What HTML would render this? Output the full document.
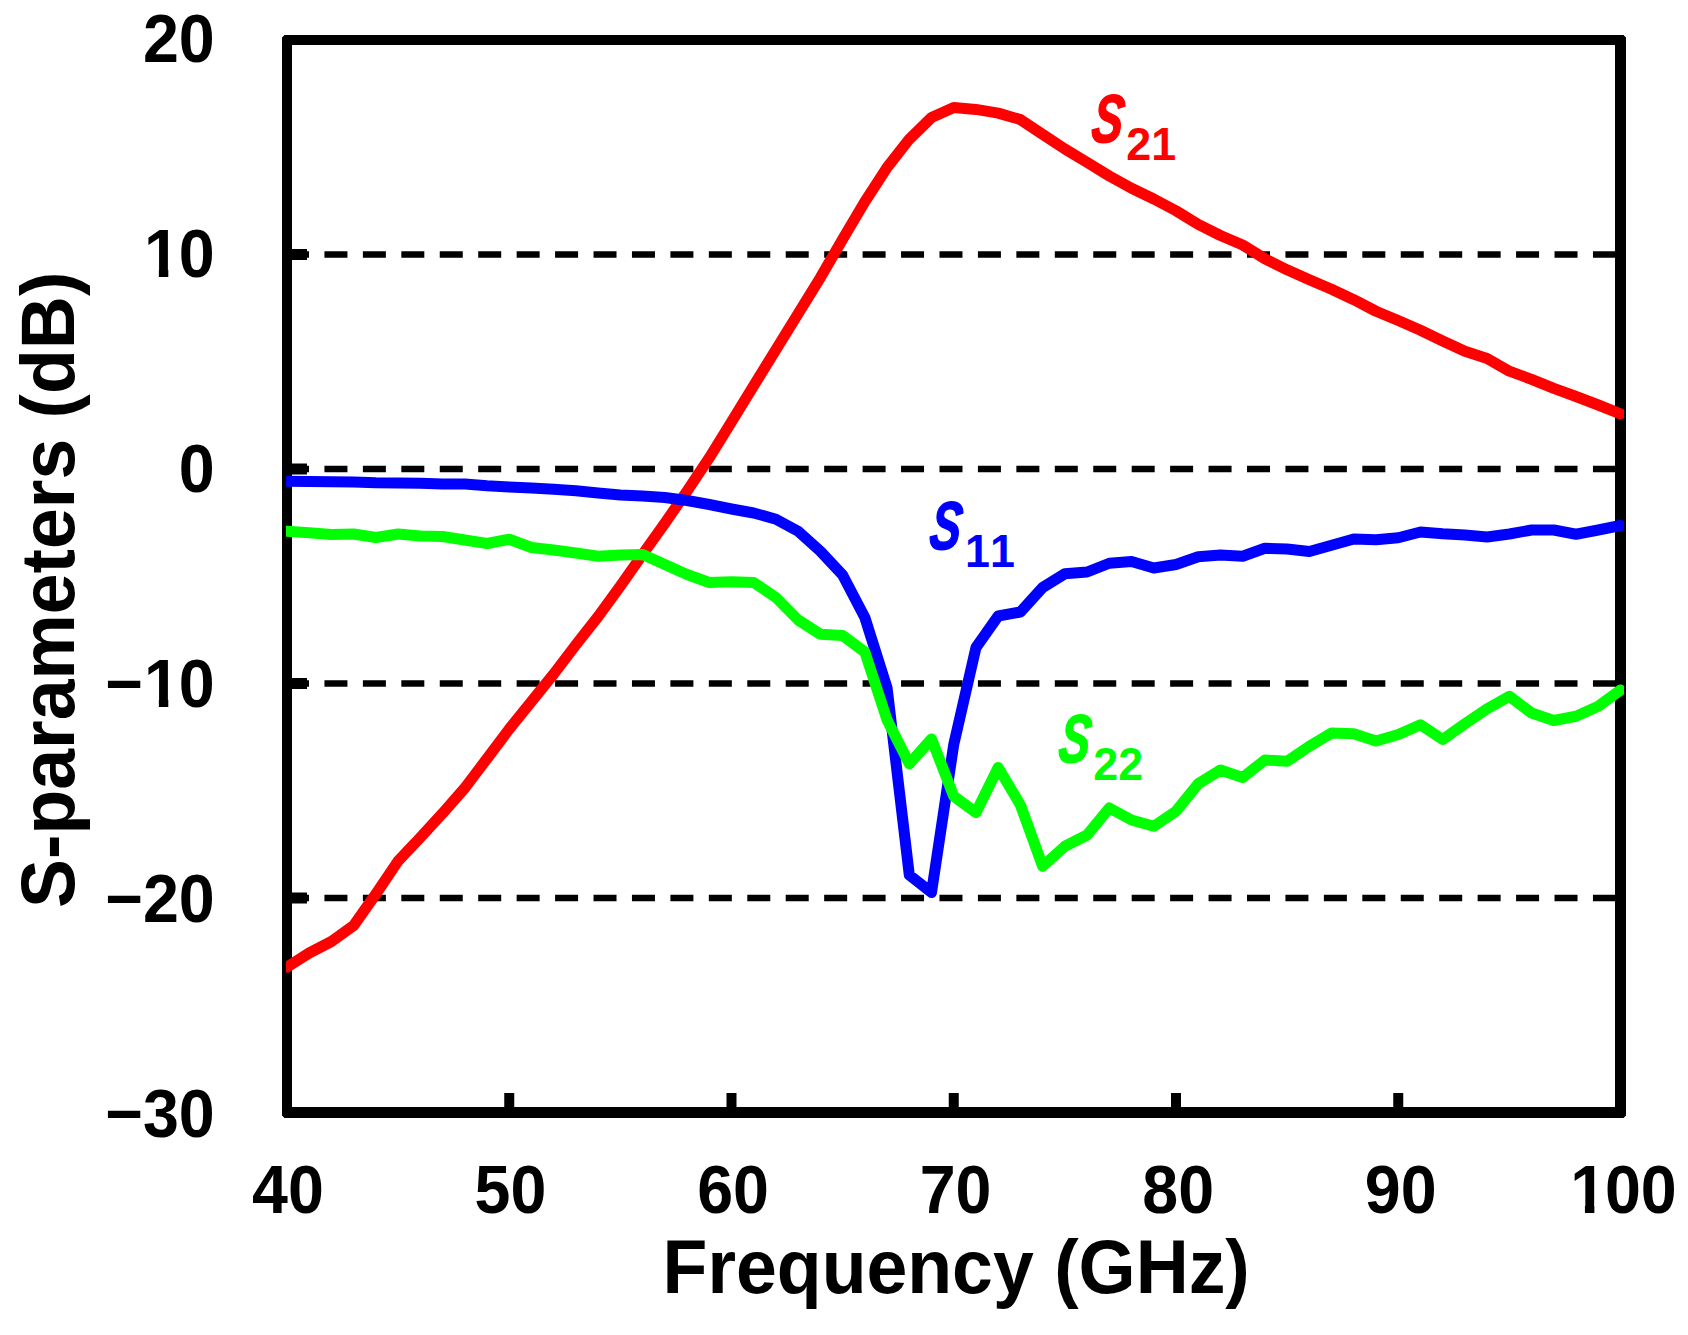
<!DOCTYPE html>
<html lang="en"><head><meta charset="utf-8"><title>S-parameters vs Frequency</title>
<style>
html,body{margin:0;padding:0;background:#fff;}
body{width:1688px;height:1335px;overflow:hidden;}
svg{display:block;}
text{font-family:"Liberation Sans",Arial,Helvetica,sans-serif;font-weight:bold;fill:#000;}
.tk{font-size:66px;}
.ax{font-size:73.4px;}
.sb{font-style:normal;font-kerning:none;}
.sl{font-style:italic;}
</style></head><body>
<svg width="1688" height="1335" viewBox="0 0 1688 1335">
<defs><clipPath id="pc"><rect x="286" y="30" width="1338" height="1092"/></clipPath></defs>
<rect x="0" y="0" width="1688" height="1335" fill="#fff"/>
<g stroke="#000" stroke-width="6.4" stroke-dasharray="23 15.44" fill="none">
<line x1="286" y1="254.50" x2="1616" y2="254.50"/>
<line x1="286" y1="469.00" x2="1616" y2="469.00"/>
<line x1="286" y1="683.50" x2="1616" y2="683.50"/>
<line x1="286" y1="898.00" x2="1616" y2="898.00"/>
</g>
<g fill="#000">
<path fill-rule="evenodd" d="M284.5,35 H1623.5 L1626,37.5 V1115.5 L1623.5,1118 H284.5 L282,1115.5 V37.5 Z M292,45 V1107 H1615 V45 Z"/>
<rect x="290" y="249.00" width="17" height="11"/>
<rect x="290" y="463.50" width="17" height="11"/>
<rect x="290" y="678.00" width="17" height="11"/>
<rect x="290" y="892.50" width="17" height="11"/>
<rect x="504.25" y="1093" width="10" height="16"/>
<rect x="726.50" y="1093" width="10" height="16"/>
<rect x="948.75" y="1093" width="10" height="16"/>
<rect x="1171.00" y="1093" width="10" height="16"/>
<rect x="1393.25" y="1093" width="10" height="16"/>
</g>
<g clip-path="url(#pc)" fill="none" stroke-width="11" stroke-linejoin="round" stroke-linecap="round">
<polyline stroke="#ff0000" points="287.00,967.00 309.23,953.00 331.45,941.50 353.68,925.50 375.90,894.00 398.12,861.00 420.35,837.40 442.57,813.30 464.80,788.00 487.02,758.60 509.25,729.00 531.48,701.50 553.70,674.00 575.92,644.70 598.15,616.50 620.38,585.90 642.60,554.30 664.83,523.20 687.05,491.20 709.27,457.80 731.50,421.80 753.73,385.70 775.95,349.70 798.17,313.60 820.40,277.60 842.62,239.20 864.85,201.80 887.08,167.50 909.30,139.20 931.52,117.50 953.75,107.50 975.98,109.40 998.20,113.10 1020.42,119.60 1042.65,134.30 1064.88,149.00 1087.10,162.40 1109.33,176.00 1131.55,188.25 1153.78,199.00 1176.00,210.75 1198.22,224.40 1220.45,235.50 1242.67,245.00 1264.90,258.75 1287.12,269.80 1309.35,279.80 1331.58,289.25 1353.80,299.70 1376.03,311.25 1398.25,320.50 1420.47,330.30 1442.70,341.00 1464.92,351.30 1487.15,358.40 1509.38,371.20 1531.60,379.30 1553.83,388.30 1576.05,396.50 1598.28,405.00 1620.50,413.80"/>
<polyline stroke="#0000ff" points="287.00,481.25 309.23,481.50 331.45,481.75 353.68,482.00 375.90,482.75 398.12,483.00 420.35,483.25 442.57,484.00 464.80,484.00 487.02,485.75 509.25,487.00 531.48,488.00 553.70,489.25 575.92,490.75 598.15,493.00 620.38,495.00 642.60,496.00 664.83,497.50 687.05,500.50 709.27,504.50 731.50,509.00 753.73,513.00 775.95,519.25 798.17,531.25 820.40,551.25 842.62,575.00 864.85,617.50 887.08,688.00 909.30,875.00 931.52,892.50 953.75,744.50 975.98,647.50 998.20,616.00 1020.42,612.00 1042.65,587.50 1064.88,573.75 1087.10,572.00 1109.33,563.25 1131.55,561.50 1153.78,568.00 1176.00,564.50 1198.22,556.75 1220.45,555.00 1242.67,556.25 1264.90,548.25 1287.12,549.00 1309.35,551.50 1331.58,545.25 1353.80,539.00 1376.03,539.75 1398.25,537.75 1420.47,532.00 1442.70,533.75 1464.92,535.00 1487.15,537.00 1509.38,534.00 1531.60,530.00 1553.83,530.00 1576.05,534.25 1598.28,530.00 1620.50,525.50"/>
<polyline stroke="#00ff00" points="287.00,531.25 309.23,532.75 331.45,534.50 353.68,534.00 375.90,537.50 398.12,534.00 420.35,536.00 442.57,536.50 464.80,540.00 487.02,543.50 509.25,539.25 531.48,547.50 553.70,550.00 575.92,553.00 598.15,556.25 620.38,555.00 642.60,554.50 664.83,564.50 687.05,574.50 709.27,582.50 731.50,581.75 753.73,582.50 775.95,597.50 798.17,620.00 820.40,634.25 842.62,635.50 864.85,652.00 887.08,720.00 909.30,763.75 931.52,739.00 953.75,796.25 975.98,812.50 998.20,767.50 1020.42,805.00 1042.65,866.25 1064.88,846.25 1087.10,835.00 1109.33,808.00 1131.55,820.00 1153.78,826.25 1176.00,811.25 1198.22,783.75 1220.45,770.00 1242.67,777.50 1264.90,760.00 1287.12,761.25 1309.35,746.25 1331.58,733.00 1353.80,733.75 1376.03,741.00 1398.25,734.50 1420.47,724.75 1442.70,739.50 1464.92,723.75 1487.15,708.75 1509.38,696.25 1531.60,713.00 1553.83,720.50 1576.05,716.25 1598.28,706.25 1620.50,690.00"/>
</g>
<text class="tk" transform="translate(214.70,62.40) scale(0.9780,1.0320)" text-anchor="end">20</text>
<g transform="translate(214.70,277.39) scale(0.9780,1.0320)">
<text class="tk" text-anchor="end" x="-1.2"><tspan dx="1.2">1</tspan><tspan dx="-1.2">0</tspan></text>
<rect x="-69.55" y="-7.84" width="12.45" height="9.34" fill="#fff"/>
<rect x="-47.45" y="-7.84" width="11.61" height="9.34" fill="#fff"/>
</g>
<text class="tk" transform="translate(214.70,492.38) scale(0.9780,1.0320)" text-anchor="end">0</text>
<g transform="translate(214.70,707.37) scale(0.9780,1.0320)">
<text class="tk" text-anchor="end">−<tspan dx="1.2">1</tspan><tspan dx="-1.2">0</tspan></text>
<rect x="-69.55" y="-7.84" width="12.45" height="9.34" fill="#fff"/>
<rect x="-47.45" y="-7.84" width="11.61" height="9.34" fill="#fff"/>
</g>
<text class="tk" transform="translate(214.70,922.36) scale(0.9780,1.0320)" text-anchor="end">−20</text>
<text class="tk" transform="translate(214.70,1137.35) scale(0.9780,1.0320)" text-anchor="end">−30</text>
<text class="tk" transform="translate(287.90,1212.90) scale(0.9780,1.0320)" text-anchor="middle">40</text>
<text class="tk" transform="translate(510.47,1212.90) scale(0.9780,1.0320)" text-anchor="middle">50</text>
<text class="tk" transform="translate(733.04,1212.90) scale(0.9780,1.0320)" text-anchor="middle">60</text>
<text class="tk" transform="translate(955.61,1212.90) scale(0.9780,1.0320)" text-anchor="middle">70</text>
<text class="tk" transform="translate(1178.18,1212.90) scale(0.9780,1.0320)" text-anchor="middle">80</text>
<text class="tk" transform="translate(1400.75,1212.90) scale(0.9780,1.0320)" text-anchor="middle">90</text>
<g transform="translate(1622.82,1212.90) scale(0.9780,1.0320)">
<text class="tk" text-anchor="middle" x="-0.6"><tspan dx="1.2">1</tspan><tspan dx="-1.2">00</tspan></text>
<rect x="-51.20" y="-7.84" width="12.45" height="9.34" fill="#fff"/>
<rect x="-29.10" y="-7.84" width="11.61" height="9.34" fill="#fff"/>
</g>
<text class="ax" transform="translate(956.20,1293.30) scale(1.0000,1.0400)" text-anchor="middle">Frequency (GHz)</text>
<text class="ax" transform="translate(74.30,589.80) rotate(-90) scale(1.0000,1.0400)" text-anchor="middle">S-parameters (dB)</text>
<text class="sl" transform="translate(1089.90,141.55) skewX(-7) scale(0.69,1)" style="fill:#ff0000;stroke:#ff0000;stroke-width:1.5px;stroke-linejoin:round;font-size:67.6px">S</text>
<text class="sb" transform="translate(1126.35,160.00) scale(1.0000,1.0300)" text-anchor="start" style="fill:#ff0000;font-size:44.8px">21</text>
<text class="sl" transform="translate(927.90,548.55) skewX(-7) scale(0.69,1)" style="fill:#0000ff;stroke:#0000ff;stroke-width:1.5px;stroke-linejoin:round;font-size:67.6px">S</text>
<text class="sb" transform="translate(965.10,567.00) scale(1.0000,1.0300)" text-anchor="start" style="fill:#0000ff;font-size:44.8px">11</text>
<text class="sl" transform="translate(1056.90,761.55) skewX(-7) scale(0.69,1)" style="fill:#00ff00;stroke:#00ff00;stroke-width:1.5px;stroke-linejoin:round;font-size:67.6px">S</text>
<text class="sb" transform="translate(1093.35,780.00) scale(1.0000,1.0300)" text-anchor="start" style="fill:#00ff00;font-size:44.8px">22</text>
</svg>
</body></html>
